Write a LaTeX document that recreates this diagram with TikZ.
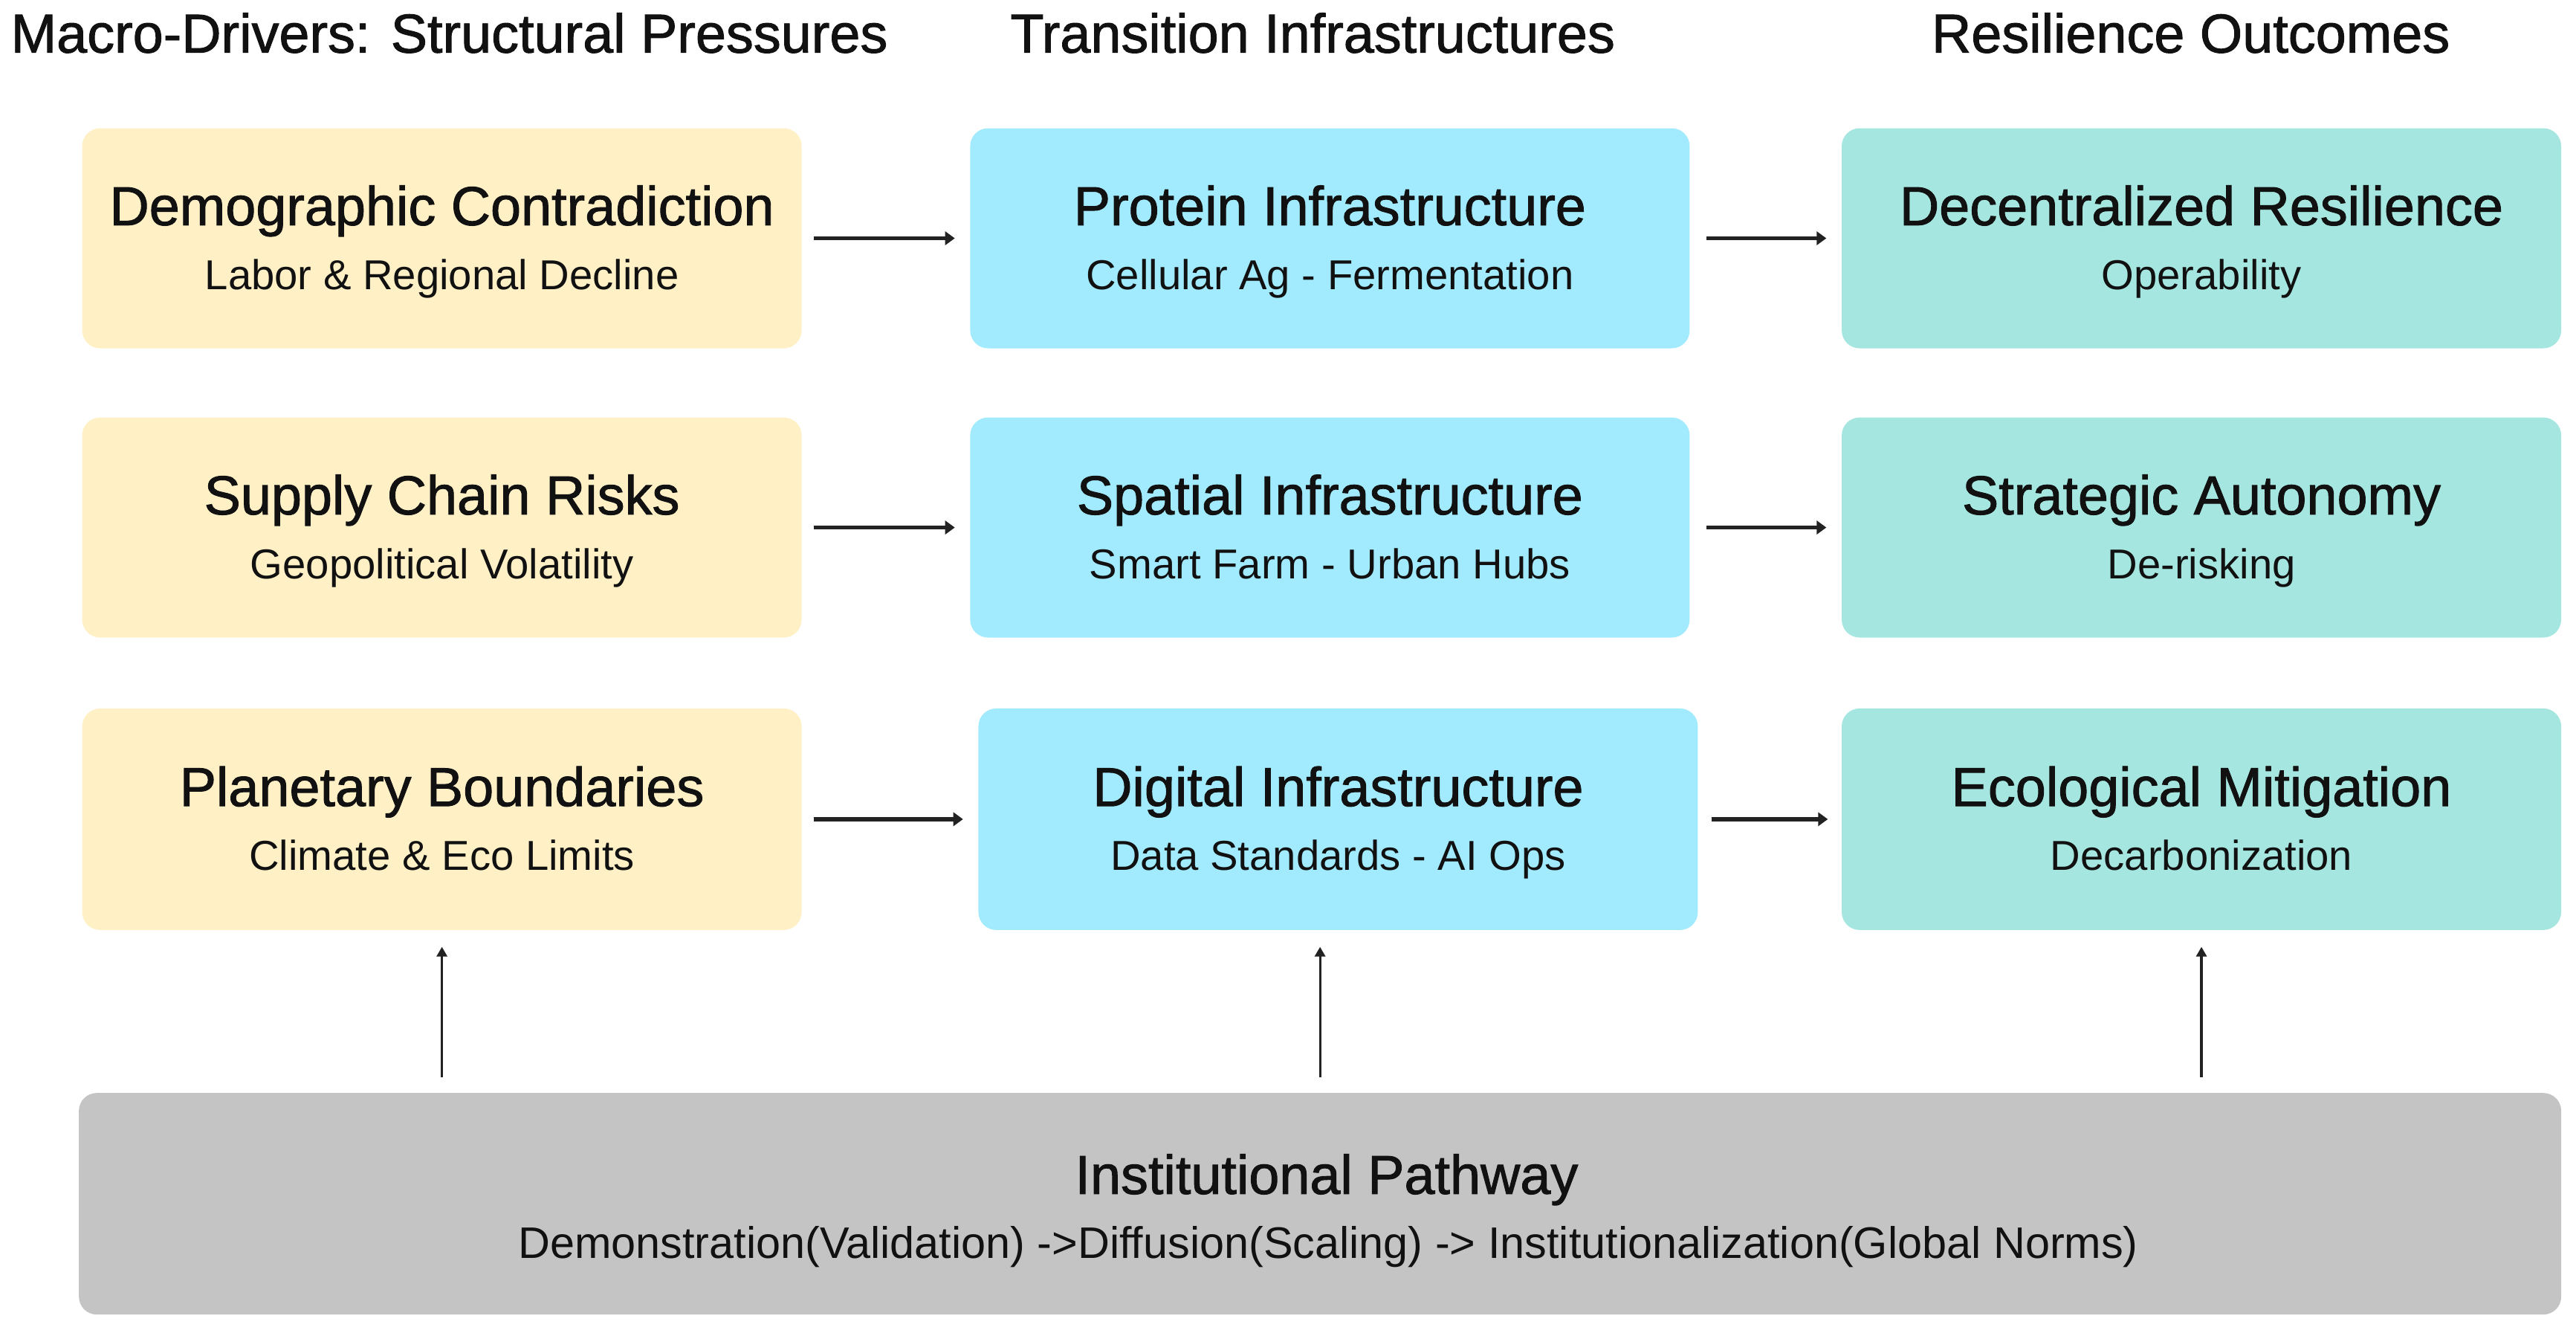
\documentclass[tikz,border=0pt]{standalone}
\usepackage{fontspec}
\setmainfont{Liberation Sans}
\newfontfamily\headfont[FakeBold=1.3]{Liberation Sans}
\usetikzlibrary{arrows.meta,calc}
\definecolor{cyel}{HTML}{FFF0C6}
\definecolor{cblu}{HTML}{A2EAFD}
\definecolor{cteal}{HTML}{A5E7E0}
\definecolor{cgray}{HTML}{C4C4C4}
\definecolor{ctxt}{HTML}{111111}
\definecolor{carr}{HTML}{222222}
\begin{document}
\begin{tikzpicture}[x=0.22105mm,y=-0.22105mm,
  box/.style={rounded corners=2.4mm, minimum width=96.8mm, minimum height=29.6mm, inner sep=0pt, draw=none},
  ybox/.style={box, fill=cyel},
  bbox/.style={box, fill=cblu},
  tbox/.style={box, fill=cteal},
  gbox/.style={box, fill=cgray, minimum width=334mm, minimum height=29.8mm},
  head/.style={font=\headfont\fontsize{21}{25}\selectfont, text=ctxt, anchor=base, inner sep=0pt},
  sub/.style={font=\fontsize{16}{19}\selectfont, text=ctxt, anchor=base, inner sep=0pt},
  harrow/.style={draw=carr, line width=1.6pt, -{Triangle[length=1.3mm,width=1.8mm]}},
  varrow/.style={draw=carr, line width=0.9pt, -{Triangle[length=1.3mm,width=1.4mm]}, shorten <=2mm, shorten >=2.2mm}
]
\useasboundingbox (0,0) rectangle (1568,811);

% column titles
\node[head] (c1) at (273.5,32) {Macro-Drivers: Structural Pressures};
\node[head] (c2) at (799,32) {Transition Infrastructures};
\node[head] (c3) at (1333.5,32) {Resilience Outcomes};

% row 1
\node[ybox] (y1) at (269,145) {};
\node[bbox] (b1) at (809.5,145) {};
\node[tbox] (t1) at (1340,145) {};
% row 2
\node[ybox] (y2) at (269,321) {};
\node[bbox] (b2) at (809.5,321) {};
\node[tbox] (t2) at (1340,321) {};
% row 3
\node[ybox, minimum height=29.8mm] (y3) at (269,498.5) {};
\node[bbox, minimum height=29.8mm] (b3) at (814.5,498.5) {};
\node[tbox, minimum height=29.8mm] (t3) at (1340,498.5) {};
% bottom
\node[gbox] (g) at (803.5,732.5) {};

% texts
\node[head] (y1h) at ($(y1.center)+(0,-8)$) {Demographic Contradiction};
\node[sub]  (y1s) at ($(y1.center)+(0,31)$) {Labor \& Regional Decline};
\node[head] (b1h) at ($(b1.center)+(0,-8)$) {Protein Infrastructure};
\node[sub]  (b1s) at ($(b1.center)+(0,31)$) {Cellular Ag - Fermentation};
\node[head] (t1h) at ($(t1.center)+(0,-8)$) {Decentralized Resilience};
\node[sub]  (t1s) at ($(t1.center)+(0,31)$) {Operability};

\node[head] (y2h) at ($(y2.center)+(0,-8)$) {Supply Chain Risks};
\node[sub]  (y2s) at ($(y2.center)+(0,31)$) {Geopolitical Volatility};
\node[head] (b2h) at ($(b2.center)+(0,-8)$) {Spatial Infrastructure};
\node[sub]  (b2s) at ($(b2.center)+(0,31)$) {Smart Farm - Urban Hubs};
\node[head] (t2h) at ($(t2.center)+(0,-8)$) {Strategic Autonomy};
\node[sub]  (t2s) at ($(t2.center)+(0,31)$) {De-risking};

\node[head] (y3h) at ($(y3.center)+(0,-8)$) {Planetary Boundaries};
\node[sub]  (y3s) at ($(y3.center)+(0,31)$) {Climate \& Eco Limits};
\node[head] (b3h) at ($(b3.center)+(0,-8)$) {Digital Infrastructure};
\node[sub]  (b3s) at ($(b3.center)+(0,31)$) {Data Standards - AI Ops};
\node[head] (t3h) at ($(t3.center)+(0,-8)$) {Ecological Mitigation};
\node[sub]  (t3s) at ($(t3.center)+(0,31)$) {Decarbonization};

\node[head] (gh) at ($(g.center)+(4,-6)$) {Institutional Pathway};
\node[sub, font=\fontsize{16.9}{20}\selectfont]  (gs) at ($(g.center)+(5,33)$) {Demonstration(Validation) ->Diffusion(Scaling) -> Institutionalization(Global Norms)};

% horizontal arrows
\draw[harrow, shorten <=1.55mm, shorten >=2mm] (y1) -- (b1);
\draw[harrow, shorten <=2.2mm, shorten >=2mm] (b1) -- (t1);
\draw[harrow, shorten <=1.55mm, shorten >=2mm] (y2) -- (b2);
\draw[harrow, shorten <=2.2mm, shorten >=2mm] (b2) -- (t2);
\draw[harrow, shorten <=1.55mm, shorten >=2mm] (y3) -- (b3);
\draw[harrow, shorten <=1.8mm, shorten >=1.8mm] (b3) -- (t3);

% vertical arrows
\draw[varrow] (g.north -| y3.south) -- (y3.south);
\draw[varrow] (g.north) -- (g.north |- b3.south);
\draw[varrow] (g.north -| t3.south) -- (t3.south);
\end{tikzpicture}
\end{document}
